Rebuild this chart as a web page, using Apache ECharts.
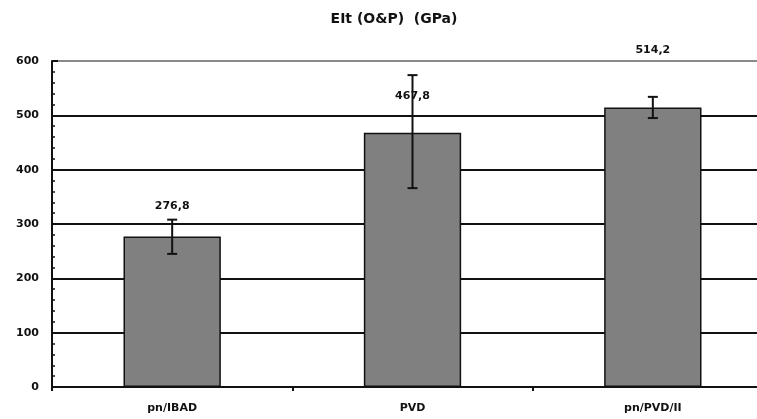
<!DOCTYPE html>
<html><head><meta charset="utf-8">
<script src="https://cdn.jsdelivr.net/npm/echarts@6/dist/echarts.min.js"></script>
<style>html,body{margin:0;padding:0;background:#fff;overflow:hidden;width:757px;height:419px}#c{width:773px;height:419px}</style>
</head><body><div id="c"></div>
<script>
const categories = ['pn/IBAD', 'PVD', 'pn/PVD/II'];
const values = [276.8, 467.8, 514.2];
const valueLabels = ['276,8', '467,8', '514,2'];
const errLow = [245, 366, 495];
const errHigh = [308, 574, 534];
const yTicks = [0, 100, 200, 300, 400, 500, 600];

const labelDistance = [25, 31, 52];
const font = 'DejaVu Sans, Liberation Sans, Arial, sans-serif';

const chart = echarts.init(document.getElementById('c'));
chart.setOption({
  animation: false,
  title: {
    text: 'EIt (O&P)  (GPa)', left: 389, top: 7, textAlign: 'center',
    textStyle: { fontFamily: font, fontWeight: 'bold', fontSize: 14, color: '#111' }
  },
  grid: { left: 52, right: 0, top: 61, bottom: 32, containLabel: false },
  xAxis: {
    type: 'category', data: categories,
    axisLine: { lineStyle: { color: '#111', width: 2 } },
    axisTick: { show: true, alignWithLabel: false, length: 4, lineStyle: { color: '#111', width: 2 } },
    axisLabel: { fontFamily: font, fontWeight: 'bold', fontSize: 11, color: '#111', margin: 16 }
  },
  yAxis: {
    type: 'value', min: yTicks[0], max: yTicks[yTicks.length - 1], interval: 100,
    axisLine: { show: true, lineStyle: { color: '#111', width: 2 } },
    axisTick: { show: true, inside: true, length: 6, lineStyle: { color: '#111', width: 2 } },
    minorTick: { show: true, splitNumber: 5, length: 3, lineStyle: { color: '#111', width: 1.5 } },
    axisLabel: { fontFamily: font, fontWeight: 'bold', fontSize: 11, color: '#111', margin: 13 },
    splitLine: { show: true, lineStyle: { color: ['#111', '#111', '#111', '#111', '#111', '#111', '#8a8a8a'], width: 2 } }
  },
  series: [
    {
      type: 'bar', barWidth: '40.5%',
      data: values.map((v, i) => ({
        value: v,
        label: { show: true, position: 'top', distance: labelDistance[i], formatter: valueLabels[i] }
      })),
      itemStyle: { color: '#808080', borderColor: '#111', borderWidth: 1.5 },
      label: { fontFamily: font, fontWeight: 'bold', fontSize: 11, color: '#111' },
      z: 2
    },
    {
      type: 'custom', z: 5,
      data: categories.map((c, i) => [i, errLow[i], errHigh[i]]),
      renderItem: function (params, api) {
        const lo = api.coord([api.value(0), api.value(1)]);
        const hi = api.coord([api.value(0), api.value(2)]);
        const x = lo[0], hw = 5;
        const st = { stroke: '#111', lineWidth: 2 };
        return { type: 'group', children: [
          { type: 'line', shape: { x1: x, y1: lo[1], x2: x, y2: hi[1] }, style: st },
          { type: 'line', shape: { x1: x - hw, y1: lo[1], x2: x + hw, y2: lo[1] }, style: st },
          { type: 'line', shape: { x1: x - hw, y1: hi[1], x2: x + hw, y2: hi[1] }, style: st }
        ]};
      }
    }
  ]
});
</script></body></html>
